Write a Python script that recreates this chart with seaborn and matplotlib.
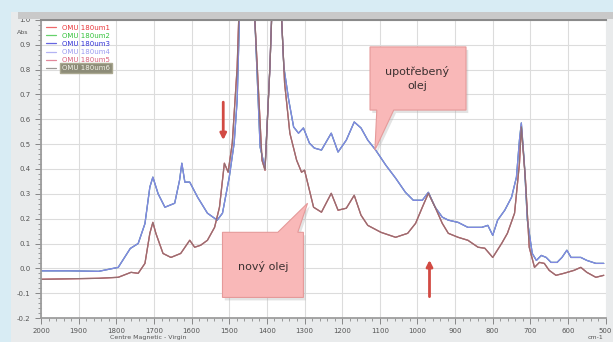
import matplotlib

matplotlib.use("Agg")

import matplotlib.pyplot as plt
import pandas as pd
import seaborn as sns
from matplotlib.patches import Polygon, Rectangle
from matplotlib.ticker import MultipleLocator

# wavenumber (cm-1) / absorbance
used_wn = [2000, 1926, 1847, 1795, 1763, 1742, 1724, 1711, 1703, 1689, 1671, 1645, 1632, 1626,
           1618, 1605, 1584, 1558, 1532, 1518, 1500, 1487, 1479, 1462, 1432, 1418, 1405, 1392,
           1376, 1355, 1342, 1329, 1316, 1303, 1287, 1274, 1255, 1229, 1211, 1189, 1168, 1150,
           1132, 1111, 1084, 1058, 1032, 1011, 987, 971, 953, 934, 918, 892, 866, 829, 813, 800,
           787, 768, 750, 737, 729, 724, 716, 708, 695, 684, 671, 658, 645, 629, 616, 603, 592,
           566, 550, 526, 505]
used_abs = [-0.01, -0.01, -0.012, 0.004, 0.08, 0.10, 0.18, 0.327, 0.367, 0.30, 0.246, 0.262, 0.355,
            0.423, 0.347, 0.347, 0.286, 0.222, 0.194, 0.222, 0.367, 0.504, 0.677, 1.6, 1.0, 0.488,
            0.403, 0.81, 1.5, 0.81, 0.677, 0.569, 0.544, 0.565, 0.504, 0.484, 0.476, 0.544, 0.468,
            0.516, 0.589, 0.565, 0.516, 0.476, 0.415, 0.363, 0.306, 0.274, 0.274, 0.306, 0.246,
            0.206, 0.194, 0.185, 0.165, 0.165, 0.173, 0.133, 0.194, 0.234, 0.286, 0.367, 0.516,
            0.585, 0.423, 0.194, 0.06, 0.032, 0.052, 0.044, 0.024, 0.024, 0.044, 0.073, 0.044,
            0.044, 0.032, 0.02, 0.02]

new_wn = [2000, 1847, 1795, 1761, 1742, 1724, 1711, 1703, 1695, 1676, 1655, 1629, 1605, 1592,
          1576, 1558, 1539, 1526, 1513, 1503, 1492, 1479, 1462, 1432, 1413, 1405, 1392, 1376,
          1353, 1339, 1321, 1308, 1300, 1276, 1255, 1229, 1211, 1189, 1168, 1150, 1132, 1097,
          1058, 1026, 1005, 987, 971, 953, 934, 918, 892, 866, 839, 821, 800, 776, 761, 742, 729,
          724, 713, 703, 689, 676, 663, 650, 632, 611, 584, 566, 550, 526, 505]
new_abs = [-0.044, -0.04, -0.036, -0.016, -0.02, 0.02, 0.141, 0.185, 0.141, 0.06, 0.044, 0.06,
           0.113, 0.085, 0.093, 0.113, 0.165, 0.246, 0.423, 0.387, 0.504, 0.81, 1.6, 1.0, 0.435,
           0.395, 0.81, 1.5, 0.746, 0.544, 0.435, 0.387, 0.395, 0.246, 0.226, 0.302, 0.234, 0.242,
           0.294, 0.214, 0.173, 0.145, 0.125, 0.141, 0.181, 0.246, 0.302, 0.246, 0.181, 0.141,
           0.125, 0.113, 0.085, 0.081, 0.044, 0.101, 0.141, 0.222, 0.423, 0.569, 0.355, 0.085,
           0.004, 0.024, 0.02, -0.008, -0.028, -0.02, -0.008, 0.004, -0.016, -0.036, -0.028]

samples = ["OMU 180um1", "OMU 180um2", "OMU 180um3", "OMU 180um4", "OMU 180um5", "OMU 180um6"]
groups = ["new", "used", "used", "used", "new", "new"]
colors = ["#e8373a", "#33c23a", "#3232d8", "#9a9af0", "#d9607a", "#7a7470"]

rows = []
for name, grp in zip(samples, groups):
    wn, ab = (used_wn, used_abs) if grp == "used" else (new_wn, new_abs)
    for w, a in zip(wn, ab):
        rows.append({"wn": w, "abs": a, "sample": name})
df = pd.DataFrame(rows)

sns.set_theme(style="whitegrid")
plt.rcParams["font.family"] = ["DejaVu Sans"]

fig = plt.figure(figsize=(6.13, 3.42), dpi=100, facecolor="#e9ebec")
fig.patches.append(Rectangle((0, 0), 0.018, 1, transform=fig.transFigure, fc="#d8ecf4", ec="none"))
fig.patches.append(Rectangle((0, 0.965), 1, 0.035, transform=fig.transFigure, fc="#d8ecf4", ec="none"))
fig.patches.append(Rectangle((0.03, 0.943), 0.97, 0.022, transform=fig.transFigure, fc="#c9c9c9", ec="none"))

# right edge kept a few px in so the "500" label is not clipped
ax = fig.add_axes([0.067, 0.070, 0.921, 0.872])
ax.set_facecolor("white")
sns.lineplot(data=df, x="wn", y="abs", hue="sample", hue_order=samples, palette=colors,
             estimator=None, sort=False, lw=0.9, alpha=0.75, ax=ax, legend=True)

ax.set_xlim(2000, 500)
ax.set_ylim(-0.2, 1.0)
ax.xaxis.set_major_locator(MultipleLocator(100))
ax.xaxis.set_minor_locator(MultipleLocator(20))
ax.yaxis.set_major_locator(MultipleLocator(0.1))
ax.yaxis.set_minor_locator(MultipleLocator(0.02))
ax.grid(True, which="major", color="#dcdcdc", lw=0.8)
ax.tick_params(which="both", direction="out", colors="#777777", labelcolor="#555555", labelsize=5)
ax.tick_params(which="major", length=4, width=0.6, left=True, bottom=True)
ax.tick_params(which="minor", length=2, width=0.5, left=True, bottom=True)
ax.set_yticklabels([f"{v:.1f}" for v in ax.get_yticks()])
ax.set_xlabel("")
ax.set_ylabel("")
ax.spines["right"].set_visible(False)
for side in ["left", "bottom"]:
    ax.spines[side].set_color("#9a9a9a")
ax.spines["top"].set_color("#8a8a8a")
ax.spines["top"].set_linewidth(1.5)

leg = ax.legend(loc="upper left", frameon=False, fontsize=5, handlelength=1.5,
                labelspacing=0.3, borderaxespad=0.3, labelcolor="linecolor")
leg.get_texts()[-1].set_color("#f2f2e8")
leg.get_texts()[-1].set_bbox(dict(fc="#8d8c78", ec="#aaa890", pad=1.2))

fig.text(0.028, 0.900, "Abs", fontsize=4.5, color="#555555")
fig.text(0.18, 0.008, "Centre Magnetic - Virgin", fontsize=4.5, color="#555555")
fig.text(0.985, 0.008, "cm-1", fontsize=4.5, color="#555555", ha="right")

pink, edge = "#f9b8b8", "#e59a9a"
used_box = [(1126, 0.891), (871, 0.891), (871, 0.637), (1063, 0.637), (1113, 0.476), (1108, 0.637), (1126, 0.637)]
new_box = [(1518, -0.117), (1303, -0.117), (1303, 0.145), (1318, 0.145), (1292, 0.262), (1371, 0.145), (1518, 0.145)]
for pts in (used_box, new_box):
    shadow = [(x - 6, y - 0.012) for x, y in pts]
    ax.add_patch(Polygon(shadow, closed=True, fc="#b0b0b0", ec="none", alpha=0.35, zorder=5))
    ax.add_patch(Polygon(pts, closed=True, fc=pink, ec=edge, lw=0.8, zorder=6))
ax.text(1000, 0.762, "upotřebený\nolej", ha="center", va="center", fontsize=8,
        color="#3a3030", linespacing=1.5, zorder=7)
ax.text(1411, 0.008, "nový olej", ha="center", va="center", fontsize=8, color="#3a3030", zorder=7)

arrow = dict(arrowstyle="-|>", color="#d24a43", lw=2.0, mutation_scale=9)
ax.annotate("", xy=(1516, 0.505), xytext=(1516, 0.68), arrowprops=arrow, zorder=8)
ax.annotate("", xy=(968, 0.045), xytext=(968, -0.125), arrowprops=arrow, zorder=8)

fig.savefig("out.png", dpi=100, facecolor=fig.get_facecolor())
